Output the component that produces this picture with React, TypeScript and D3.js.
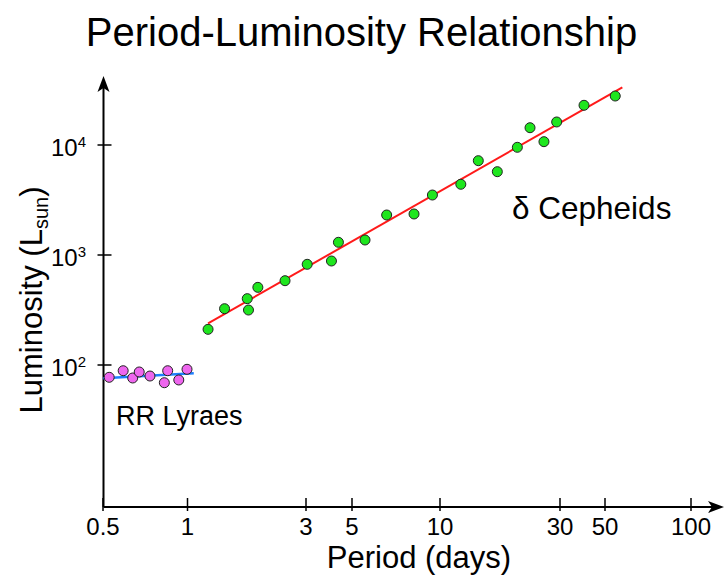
import * as d3 from 'd3';

// ---------------------------------------------------------------------------
// Data
// ---------------------------------------------------------------------------
const CEPHEID_PERIOD = [
  1.21, 1.41, 1.74, 1.76, 1.92, 2.47, 3.04, 3.98, 4.3, 5.54, 6.57,
  8.15, 9.42, 12.1, 14.2, 16.9, 20.3, 22.8, 25.9, 29.1, 39.4, 54.3,
];
const CEPHEID_LUM = [
  211, 325, 401, 316, 508, 584, 823, 882, 1305, 1369, 2310,
  2360, 3510, 4395, 7200, 5720, 9530, 14360, 10720, 16190, 22960, 27880,
];
const RR_PERIOD = [0.526, 0.59, 0.638, 0.673, 0.735, 0.827, 0.85, 0.931, 0.996];
const RR_LUM = [77.3, 88.7, 76.2, 86.4, 79.4, 69.0, 88.7, 73.1, 91.4];

// fitted lines (end points)
const CEPHEID_FIT_PERIOD = [1.21, 57.5];
const CEPHEID_FIT_LUM = [239, 33460];
const RR_FIT_PERIOD = [0.501, 1.06];
const RR_FIT_LUM = [75.7, 84.1];

const X_TICKS = [0.5, 1, 3, 5, 10, 30, 50, 100];
const X_TICK_LABELS = ['0.5', '1', '3', '5', '10', '30', '50', '100'];
const Y_TICKS = [100, 1000, 10000];
const Y_TICK_EXP = ['2', '3', '4'];

// ---------------------------------------------------------------------------
// Styling
// ---------------------------------------------------------------------------
const FONT = '"Liberation Sans", Arial, sans-serif';
const GREEN = '#1ee61e';
const PINK = '#ee66ee';
const RED = '#ff1a1a';
const BLUE = '#1f7fff';

const W = 726;
const H = 577;

export default function App() {
  // the original's ticks are hand placed, so the log scale is piecewise
  const x = d3
    .scaleLog()
    .domain(X_TICKS)
    .range([103, 187.5, 306, 352, 440, 560, 605, 691]);
  const y = d3.scaleLog().domain([100, 10000]).range([365, 145]);

  const axisX = 103.5;
  const axisY = 507;

  const line = d3
    .line<[number, number]>()
    .x((d) => x(d[0]))
    .y((d) => y(d[1]));

  const cephFit = CEPHEID_FIT_PERIOD.map((p, i) => [p, CEPHEID_FIT_LUM[i]] as [number, number]);
  const rrFit = RR_FIT_PERIOD.map((p, i) => [p, RR_FIT_LUM[i]] as [number, number]);

  // arrow heads
  const arrowRight = (tx: number, ty: number) =>
    `M${tx},${ty} L${tx - 16},${ty - 6} L${tx - 12},${ty} L${tx - 16},${ty + 6} Z`;
  const arrowUp = (tx: number, ty: number) =>
    `M${tx},${ty} L${tx - 6},${ty + 16} L${tx},${ty + 12} L${tx + 6},${ty + 16} Z`;

  return (
    <div style={{ position: 'fixed', left: 0, top: 0, background: '#fff' }}>
      <svg width={W} height={H} style={{ display: 'block' }} fontFamily={FONT}>
        <rect width={W} height={H} fill="#fff" />

        {/* Title */}
        <text x={361.5} y={46} textAnchor="middle" fontSize={40} fill="#000">
          Period-Luminosity Relationship
        </text>

        {/* Axes */}
        <line x1={axisX} x2={axisX} y1={axisY} y2={84} stroke="#000" strokeWidth={2} />
        <path d={arrowUp(axisX, 76)} fill="#000" />
        <line x1={axisX} x2={716} y1={axisY} y2={axisY} stroke="#000" strokeWidth={2} />
        <path d={arrowRight(724, axisY)} fill="#000" />

        {/* X ticks */}
        {X_TICKS.map((t, i) => (
          <g key={t}>
            <line
              x1={x(t)}
              x2={x(t)}
              y1={axisY - 9}
              y2={axisY + 4}
              stroke="#000"
              strokeWidth={1.5}
            />
            <text x={x(t)} y={axisY + 28} textAnchor="middle" fontSize={24} fill="#000">
              {X_TICK_LABELS[i]}
            </text>
          </g>
        ))}

        {/* Y ticks */}
        {Y_TICKS.map((t, i) => (
          <g key={t}>
            <line
              x1={axisX - 6}
              x2={axisX + 8}
              y1={y(t)}
              y2={y(t)}
              stroke="#000"
              strokeWidth={1.5}
            />
            <text x={51} y={y(t) + 11} fontSize={24} fill="#000">
              10
              <tspan fontSize={15} dy={-9}>
                {Y_TICK_EXP[i]}
              </tspan>
            </text>
          </g>
        ))}

        {/* Axis titles */}
        <text x={419} y={568} textAnchor="middle" fontSize={31} fill="#000">
          Period (days)
        </text>
        <text
          transform={`translate(42,300) rotate(-90)`}
          textAnchor="middle"
          fontSize={31}
          fill="#000"
        >
          Luminosity (L
          <tspan fontSize={20} dy={6}>
            sun
          </tspan>
          <tspan dy={-6}>)</tspan>
        </text>

        {/* Fitted lines */}
        <path d={line(rrFit) ?? ''} fill="none" stroke={BLUE} strokeWidth={2.5} />
        <path d={line(cephFit) ?? ''} fill="none" stroke={RED} strokeWidth={2} />

        {/* RR Lyrae points */}
        {RR_PERIOD.map((p, i) => (
          <circle
            key={'rr' + i}
            cx={x(p)}
            cy={y(RR_LUM[i])}
            r={5}
            fill={PINK}
            stroke="#222"
            strokeWidth={1}
          />
        ))}

        {/* Cepheid points */}
        {CEPHEID_PERIOD.map((p, i) => (
          <circle
            key={'c' + i}
            cx={x(p)}
            cy={y(CEPHEID_LUM[i])}
            r={5}
            fill={GREEN}
            stroke="#222"
            strokeWidth={1}
          />
        ))}

        {/* Group labels */}
        <text x={512} y={219} fontSize={31.5} fill="#000">
          δ Cepheids
        </text>
        <text x={116} y={425} fontSize={27} fill="#000">
          RR Lyraes
        </text>
      </svg>
    </div>
  );
}
